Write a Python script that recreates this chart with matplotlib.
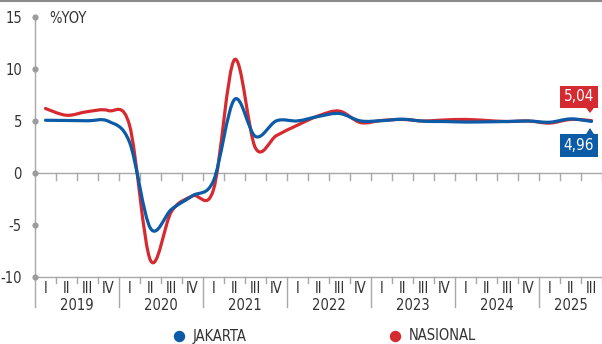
import matplotlib
matplotlib.use("Agg")
import matplotlib.pyplot as plt
import numpy as np
from matplotlib import font_manager
from matplotlib.path import Path
from matplotlib.patches import PathPatch, Polygon, Rectangle
from matplotlib.lines import Line2D
from matplotlib.transforms import Affine2D, ScaledTranslation

# ---- data -------------------------------------------------------------
years = ["2019", "2020", "2021", "2022", "2023", "2024", "2025"]
quarters_per_year = [4, 4, 4, 4, 4, 4, 3]
quarter_names = ["I", "II", "III", "IV"]

jakarta = [5.07, 5.05, 5.02, 4.97,
           2.97, -5.32, -3.49, -2.19,
           -0.74, 7.07, 3.51, 5.02,
           5.01, 5.44, 5.72, 5.01,
           5.03, 5.17, 4.98, 4.95,
           4.90, 4.92, 4.95, 5.00,
           4.88, 5.20, 4.96]

nasional = [6.20, 5.55, 5.90, 6.00,
            4.60, -8.40, -3.70, -2.20,
            -1.60, 10.90, 2.40, 3.60,
            4.60, 5.50, 5.95, 4.85,
            5.05, 5.15, 5.00, 5.10,
            5.15, 5.05, 4.95, 5.00,
            4.80, 5.15, 5.04]

y_ticks = [-10, -5, 0, 5, 10, 15]
unit_label = "%YOY"
series_names = ["JAKARTA", "NASIONAL"]

# ---- style ------------------------------------------------------------
BLUE = "#0c5ba6"
RED = "#d62a31"
GRAY = "#a8a8a8"
DOT = "#9c9c9c"
TEXT = "#333333"


def pick_font():
    # prefer a narrow face for the labels
    for fam, stretch in [("Liberation Sans Narrow", "normal"),
                         ("DejaVu Sans", "condensed")]:
        try:
            path = font_manager.findfont(
                font_manager.FontProperties(family=fam, stretch=stretch),
                fallback_to_default=False)
        except Exception:
            continue
        low = path.lower()
        if "narrow" in low or "condensed" in low:
            return font_manager.FontProperties(fname=path)
    return font_manager.FontProperties(family="Roboto")


FP = pick_font()


def fp(size):
    p = FP.copy()
    p.set_size(size)
    return p


W, H = 602, 344
fig = plt.figure(figsize=(W / 100, H / 100), dpi=100)
ax = fig.add_axes([35 / W, (H - 277) / H, (602 - 35) / W, (277 - 17) / H])

n = len(jakarta)
ax.set_xlim(0, n)
ax.set_ylim(-10, 15)
for s in ax.spines.values():
    s.set_visible(False)
ax.set_xticks([])
ax.set_yticks(y_ticks)
ax.set_yticklabels([str(v) for v in y_ticks], fontproperties=fp(10.5))
ax.tick_params(axis="y", length=0, pad=9.4, labelcolor=TEXT)

# axis frame: vertical axis, zero line, bottom line
ax.plot([0, 0], [15, -12.85], color=GRAY, lw=1.0, clip_on=False, zorder=1)
ax.plot([0, n], [0, 0], color=GRAY, lw=1.0, clip_on=False, zorder=1)
ax.plot([0, n], [-10, -10], color=GRAY, lw=1.0, clip_on=False, zorder=1)

# quarter ticks and year separators
year_starts = np.cumsum([0] + quarters_per_year[:-1])
for k in range(1, n + 1):
    ax.plot([k, k], [0, -0.67], color=GRAY, lw=1.0, clip_on=False, zorder=1)
    low = -12.85 if k in year_starts else -10.55
    ax.plot([k, k], [-10, low], color=GRAY, lw=1.0, clip_on=False, zorder=1)

ax.scatter([0] * len(y_ticks), y_ticks, s=20, color=DOT, clip_on=False,
           zorder=3, linewidths=0)

# quarter and year labels
k = 0
for yr, nq in zip(years, quarters_per_year):
    for q in range(nq):
        ax.text(k + q + 0.5, -11.15, quarter_names[q], ha="center", va="center",
                fontproperties=fp(10.5), color=TEXT, clip_on=False)
    ax.text(k + nq / 2, -12.72, yr, ha="center", va="center",
            fontproperties=fp(10.5), color=TEXT, clip_on=False)
    k += nq

ax.text(0.67, 14.9, unit_label, ha="left", va="center",
        fontproperties=fp(10.5), color=TEXT)


# ---- smooth series (Catmull-Rom through the quarterly points) ----------
def smooth_path(xs, ys):
    pts = np.column_stack([xs, ys]).astype(float)
    ext = np.vstack([pts[0], pts, pts[-1]])
    verts = [pts[0]]
    codes = [Path.MOVETO]
    for i in range(len(pts) - 1):
        p0, p1, p2, p3 = ext[i], ext[i + 1], ext[i + 2], ext[i + 3]
        c1 = p1 + (p2 - p0) / 6.0
        c2 = p2 - (p3 - p1) / 6.0
        verts += [c1, c2, p2]
        codes += [Path.CURVE4] * 3
    return Path(verts, codes)


xs = np.arange(n) + 0.5
for vals, col, z in [(nasional, RED, 4), (jakarta, BLUE, 5)]:
    patch = PathPatch(smooth_path(xs, vals), fill=False, edgecolor=col, lw=2.3,
                      capstyle="round", joinstyle="round", zorder=z)
    ax.add_patch(patch)


# ---- end-value callouts -------------------------------------------------
def pixel_frame(x, y):
    # pixel offsets (y downward) relative to a data point
    return Affine2D().scale(1, -1) + ScaledTranslation(x, y, ax.transData)


def callout(value, color, above):
    tr = pixel_frame(xs[-1], value)
    if above:
        box_y, tri = (-34.6, 22), [(-5.5, -12.8), (2.5, -12.8), (-1.5, -7.6)]
        ty = -23.6
    else:
        box_y, tri = (12.6, 23), [(-5.5, 12.8), (2.5, 12.8), (-1.5, 6.6)]
        ty = 24.1
    ax.add_patch(Rectangle((-32.0, box_y[0]), 38.5, box_y[1], transform=tr,
                           facecolor=color, edgecolor="none", clip_on=False,
                           zorder=6))
    ax.add_patch(Polygon(tri, closed=True, transform=tr, facecolor=color,
                         edgecolor="none", clip_on=False, zorder=6))
    ax.text(-12.8, ty, f"{value:.2f}".replace(".", ","), transform=tr,
            ha="center", va="center", color="white", fontproperties=fp(11),
            zorder=7, clip_on=False)


callout(nasional[-1], RED, above=True)
callout(jakarta[-1], BLUE, above=False)

# ---- legend ------------------------------------------------------------
for cx, col, name in [(179, BLUE, series_names[0]), (395, RED, series_names[1])]:
    fig.add_artist(Line2D([cx / W], [(H - 336) / H], marker="o", ms=7.2,
                          color=col, lw=0, transform=fig.transFigure))
    fig.text((cx + 14) / W, (H - 336) / H, name, ha="left", va="center",
             fontproperties=fp(10.5), color=TEXT)

# top rule
fig.add_artist(Line2D([0, 1], [1 - 0.8 / H, 1 - 0.8 / H], color="#8a8a8a",
                      lw=1.5, transform=fig.transFigure))

fig.savefig("out.png", dpi=100)
